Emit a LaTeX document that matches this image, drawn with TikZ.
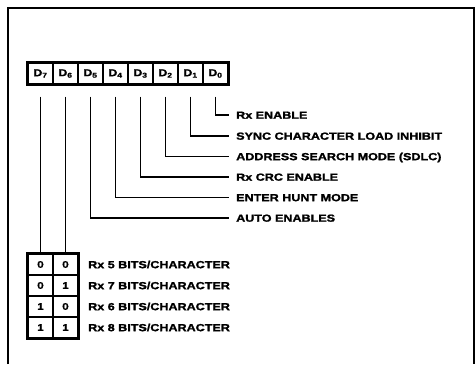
\documentclass[tikz,border=0pt]{standalone}
\usepackage{fontspec}
\newfontfamily\labfont[FakeStretch=1.22,FakeBold=1.6]{Liberation Sans Bold}
\begin{document}
\begin{tikzpicture}[x=1pt,y=-1pt,
  cell/.style={draw, line width=1.3pt, minimum width=25pt, minimum height=21pt, inner sep=0pt, font=\labfont\fontsize{10}{11}\selectfont},
  bitcell/.style={draw, line width=1.3pt, minimum width=25pt, minimum height=21pt, inner sep=0pt, font=\labfont\fontsize{9.5}{10}\selectfont},
  lab/.style={anchor=west, inner sep=0pt, text height=7.4pt, text depth=0pt, font=\labfont\fontsize{10.3}{12}\selectfont},
  conn/.style={line width=1.9pt},
  frame/.style={line width=2pt}]
\useasboundingbox (0,0) rectangle (476,364);
% outer frame (open at the bottom)
\draw[frame] (7.5,364) -- (7.5,8) -- (474,8) -- (474,364);
% register cells
\foreach \n [count=\k from 0] in {7,6,5,4,3,2,1,0}
  \node[cell] (d\n) at ({40.5+25*\k},73.5) {D\textsubscript{\n}};
\draw[line width=2.4pt] (d7.north west) rectangle (d0.south east);
% labels
\node[lab] (l0) at (236,115) {Rx ENABLE};
\node[lab] (l1) at (236,136) {SYNC CHARACTER LOAD INHIBIT};
\node[lab] (l2) at (236,156.5) {ADDRESS SEARCH MODE (SDLC)};
\node[lab] (l3) at (236,177) {Rx CRC ENABLE};
\node[lab] (l4) at (236,197.5) {ENTER HUNT MODE};
\node[lab] (l5) at (236,218) {AUTO ENABLES};
% connectors
\foreach \n in {0,...,5}
  \draw[conn] ([yshift=-12pt]d\n.south) |- ([xshift=-7pt]l\n.west);
% bit table
\node[bitcell] (b70) at (40.5,264.5) {0};
\node[bitcell] (b60) at (65.5,264.5) {0};
\node[bitcell] (b71) at (40.5,285.5) {0};
\node[bitcell] (b61) at (65.5,285.5) {1};
\node[bitcell] (b72) at (40.5,306.5) {1};
\node[bitcell] (b62) at (65.5,306.5) {0};
\node[bitcell] (b73) at (40.5,327.5) {1};
\node[bitcell] (b63) at (65.5,327.5) {1};
\draw[line width=2.4pt] (b70.north west) rectangle (b63.south east);
\draw[conn] ([yshift=-12pt]d7.south) -- (b70.north);
\draw[conn] ([yshift=-12pt]d6.south) -- (b60.north);
\node[lab] (r0) at (88,264.5) {Rx 5 BITS/CHARACTER};
\node[lab] (r1) at (88,285.5) {Rx 7 BITS/CHARACTER};
\node[lab] (r2) at (88,306.5) {Rx 6 BITS/CHARACTER};
\node[lab] (r3) at (88,327.5) {Rx 8 BITS/CHARACTER};
\end{tikzpicture}
\end{document}
